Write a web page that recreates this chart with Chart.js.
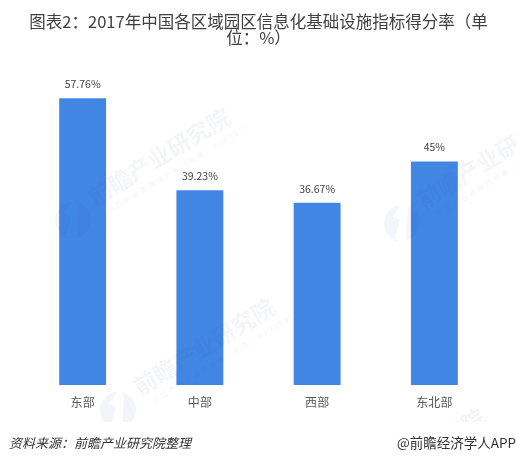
<!DOCTYPE html>
<html>
<head>
<meta charset="utf-8">
<style>
  html, body { margin: 0; padding: 0; background: #fff; }
  canvas { display: block; }
</style>
<script src="https://cdn.jsdelivr.net/npm/chart.js@4"></script>
</head>
<body>
<canvas id="chart" width="516" height="462"></canvas>
<script>
const CJK = '"Noto Sans CJK SC", "Noto Sans", sans-serif';

const categories = ["东部", "中部", "西部", "东北部"];
const scores = [57.76, 39.23, 36.67, 45];
const titleLines = ["图表2：2017年中国各区域园区信息化基础设施指标得分率（单", "位：%）"];
const sourceText = "资料来源：前瞻产业研究院整理";
const creditText = "@前瞻经济学人APP";
const stampName = "前瞻产业研究院";
const stampSub = "中国产业咨询领导者（股票：839599）";
// circle centre of each faint logo stamp
const stampSpots = [[118, 410], [402, 223], [73, 220], [328, 520]];

// faint logos sit over the bars, cut off above the footer
function drawStamp(ctx, x, y) {
  ctx.save();
  ctx.fillStyle = "rgba(40, 60, 110, 0.05)";
  ctx.beginPath();
  ctx.arc(x, y, 18, 0, Math.PI * 2);
  ctx.moveTo(x - 8, y + 18);
  ctx.lineTo(x - 2, y - 3);
  ctx.lineTo(x - 9, y - 6);
  ctx.lineTo(x - 1, y - 18);
  ctx.lineTo(x + 6, y - 18);
  ctx.lineTo(x + 4, y + 18);
  ctx.closePath();
  ctx.fill("evenodd");
  ctx.translate(x, y);
  ctx.rotate(-0.55);
  ctx.textAlign = "left";
  ctx.textBaseline = "middle";
  ctx.font = "bold 23px " + CJK;
  ctx.fillText(stampName, 26, -9);
  ctx.font = "7.5px " + CJK;
  ctx.letterSpacing = "2px";
  ctx.fillText(stampSub, 34, 11);
  ctx.restore();
}

const extras = {
  id: "extras",
  afterDatasetsDraw(chart) {
    const ctx = chart.ctx;

    ctx.save();
    ctx.beginPath();
    ctx.rect(0, 0, 516, 422);
    ctx.clip();
    stampSpots.forEach(([x, y]) => drawStamp(ctx, x, y));
    ctx.restore();

    // value labels above the bars
    ctx.save();
    ctx.font = "10.5px " + CJK;
    ctx.fillStyle = "#404040";
    ctx.textAlign = "center";
    ctx.textBaseline = "middle";
    chart.getDatasetMeta(0).data.forEach((bar, i) => {
      ctx.fillText(scores[i] + "%", bar.x, bar.y - 14);
    });
    ctx.restore();

    // footer
    ctx.save();
    ctx.fillStyle = "#333333";
    ctx.textBaseline = "middle";
    ctx.font = "italic 13px " + CJK;
    ctx.textAlign = "left";
    ctx.fillText(sourceText, 9, 443);
    ctx.font = "13.5px " + CJK;
    ctx.textAlign = "right";
    ctx.fillText(creditText, 516, 443);
    ctx.restore();
  }
};

new Chart(document.getElementById("chart"), {
  type: "bar",
  data: {
    labels: categories,
    datasets: [{
      data: scores,
      backgroundColor: "#4286E4",
      categoryPercentage: 1,
      barPercentage: 0.4
    }]
  },
  options: {
    responsive: false,
    animation: false,
    layout: { padding: { left: 24, right: 23, top: 0, bottom: 0 } },
    plugins: {
      legend: { display: false },
      tooltip: { enabled: false },
      title: {
        display: true,
        text: titleLines,
        color: "#404040",
        font: { family: CJK, size: 16.5, weight: "normal", lineHeight: 1 },
        padding: { top: 13, bottom: 41 }
      }
    },
    scales: {
      y: { display: false, min: 0, max: 60 },
      x: {
        grid: { display: false },
        border: { display: false },
        ticks: {
          color: "#595959",
          font: { family: CJK, size: 12 },
          padding: 2,
          maxRotation: 0
        },
        afterFit(scale) { scale.height = 77; }
      }
    }
  },
  plugins: [extras]
});
</script>
</body>
</html>
